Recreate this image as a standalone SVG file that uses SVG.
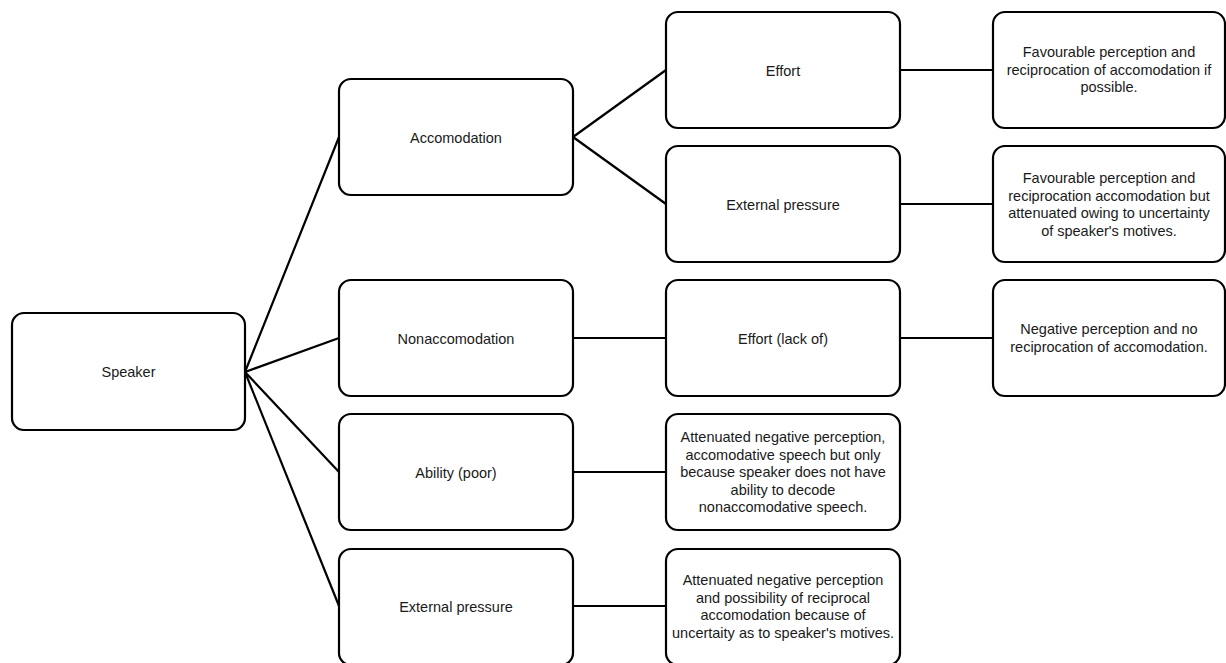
<svg xmlns="http://www.w3.org/2000/svg" width="1226" height="663" viewBox="0 0 1226 663">
<style>
.box{fill:#fff;stroke:#000;stroke-width:2.2}
.t{font-family:"Liberation Sans",Arial,sans-serif;font-size:14.5px;fill:#1a1a1a;text-anchor:middle}
.c{stroke:#000;stroke-width:2.2;fill:none}
</style>
<rect width="1226" height="663" fill="#fff"/>
<g id="connectors">
<line class="c" x1="245" y1="372" x2="339" y2="137"/>
<line class="c" x1="245" y1="372" x2="339" y2="338"/>
<line class="c" x1="245" y1="372" x2="339" y2="472"/>
<line class="c" x1="245" y1="372" x2="339" y2="606"/>
<line class="c" x1="573" y1="137" x2="666" y2="70"/>
<line class="c" x1="573" y1="137" x2="666" y2="204"/>
<line class="c" x1="573" y1="338" x2="666" y2="338"/>
<line class="c" x1="573" y1="472" x2="666" y2="472"/>
<line class="c" x1="573" y1="606" x2="666" y2="606"/>
<line class="c" x1="900" y1="70" x2="993" y2="70"/>
<line class="c" x1="900" y1="204" x2="993" y2="204"/>
<line class="c" x1="900" y1="338" x2="993" y2="338"/>
</g>
<g id="speaker"><rect class="box" x="12" y="313" width="233" height="117" rx="12"/><text class="t" x="128.5" y="377">Speaker</text></g>
<g id="accomodation"><rect class="box" x="339" y="79" width="234" height="116" rx="12"/><text class="t" x="456" y="142.5">Accomodation</text></g>
<g id="nonaccomodation"><rect class="box" x="339" y="280" width="234" height="116" rx="12"/><text class="t" x="456" y="343.5">Nonaccomodation</text></g>
<g id="ability"><rect class="box" x="339" y="414" width="234" height="116" rx="12"/><text class="t" x="456" y="477.5">Ability (poor)</text></g>
<g id="external1"><rect class="box" x="339" y="549" width="234" height="116" rx="12"/><text class="t" x="456" y="612">External pressure</text></g>
<g id="effort"><rect class="box" x="666" y="12" width="234" height="116" rx="12"/><text class="t" x="783" y="75.5">Effort</text></g>
<g id="external2"><rect class="box" x="666" y="146" width="234" height="116" rx="12"/><text class="t" x="783" y="209.5">External pressure</text></g>
<g id="effortlack"><rect class="box" x="666" y="280" width="234" height="116" rx="12"/><text class="t" x="783" y="343.5">Effort (lack of)</text></g>
<g id="abilityres"><rect class="box" x="666" y="414" width="234" height="116" rx="12"/><text class="t" x="783" y="442"><tspan x="783">Attenuated negative perception,</tspan><tspan x="783" dy="17.5">accomodative speech but only</tspan><tspan x="783" dy="17.5">because speaker does not have</tspan><tspan x="783" dy="17.5">ability to decode</tspan><tspan x="783" dy="17.5">nonaccomodative speech.</tspan></text></g>
<g id="externalres"><rect class="box" x="666" y="549" width="234" height="116" rx="12"/><text class="t" x="783" y="585"><tspan x="783">Attenuated negative perception</tspan><tspan x="783" dy="17.5">and possibility of reciprocal</tspan><tspan x="783" dy="17.5">accomodation because of</tspan><tspan x="783" dy="17.5">uncertaity as to speaker's motives.</tspan></text></g>
<g id="effortres"><rect class="box" x="993" y="12" width="232" height="116" rx="12"/><text class="t" x="1109" y="57"><tspan x="1109">Favourable perception and</tspan><tspan x="1109" dy="17.5">reciprocation of accomodation if</tspan><tspan x="1109" dy="17.5">possible.</tspan></text></g>
<g id="externalres2"><rect class="box" x="993" y="146" width="232" height="116" rx="12"/><text class="t" x="1109" y="183"><tspan x="1109">Favourable perception and</tspan><tspan x="1109" dy="17.5">reciprocation accomodation but</tspan><tspan x="1109" dy="17.5">attenuated owing to uncertainty</tspan><tspan x="1109" dy="17.5">of speaker's motives.</tspan></text></g>
<g id="effortlackres"><rect class="box" x="993" y="280" width="232" height="116" rx="12"/><text class="t" x="1109" y="334"><tspan x="1109">Negative perception and no</tspan><tspan x="1109" dy="17.5">reciprocation of accomodation.</tspan></text></g>
</svg>
